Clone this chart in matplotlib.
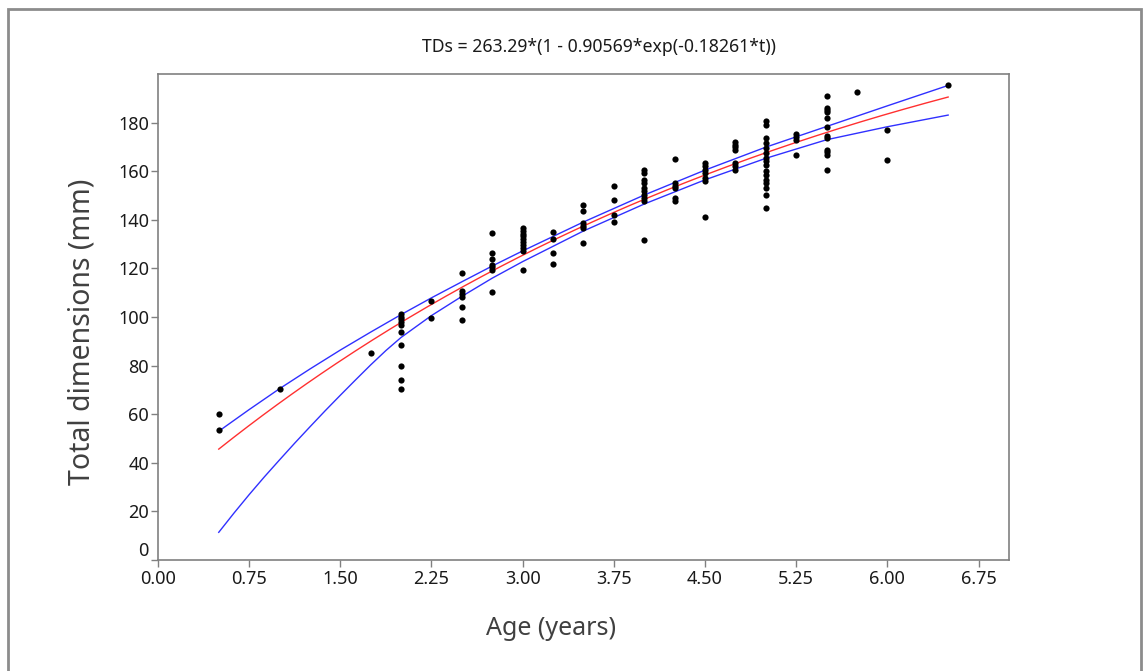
import numpy as np
import matplotlib
matplotlib.use("Agg")
import matplotlib.pyplot as plt
from matplotlib.patches import Rectangle

plt.rcParams['font.family'] = ['Noto Sans', 'DejaVu Sans']

# von Bertalanffy fit parameters
L_inf = 263.29
b = 0.90569
k = 0.18261

# observed sizes grouped by age
ages = [0.5, 1.0, 1.75, 2.0, 2.25, 2.5, 2.75, 3.0, 3.25, 3.5, 3.75, 4.0,
        4.25, 4.5, 4.75, 5.0, 5.25, 5.5, 5.75, 6.0, 6.5]
sizes = [
    [60.0, 53.5],
    [70.5],
    [85.0],
    [101.3, 100.2, 99.2, 98.0, 96.9, 93.9, 88.6, 80.0, 74.1, 70.3],
    [106.4, 99.5],
    [118.3, 110.5, 109.6, 108.4, 104.1, 98.8],
    [134.4, 126.3, 123.8, 121.5, 120.4, 119.4, 110.2],
    [136.5, 135.4, 134.3, 133.2, 132.0, 130.8, 129.6, 128.4, 127.2, 119.4],
    [135.1, 132.2, 126.2, 121.8],
    [146.2, 143.7, 138.7, 137.6, 136.6, 130.3],
    [154.0, 148.0, 142.0, 139.1],
    [160.6, 159.3, 156.5, 155.2, 153.1, 151.7, 150.3, 149.0, 147.6, 131.8],
    [165.2, 155.1, 154.0, 152.9, 149.0, 147.9],
    [163.4, 162.0, 160.6, 159.3, 157.2, 155.8, 141.1],
    [172.0, 170.9, 169.8, 168.6, 163.4, 162.0, 160.6],
    [180.5, 179.2, 173.7, 171.6, 169.6, 167.5, 165.4, 164.1, 162.7,
     160.0, 158.6, 156.5, 155.2, 153.1, 150.3, 144.9],
    [175.5, 174.2, 172.8, 166.5],
    [190.8, 186.0, 185.0, 184.2, 181.9, 178.1, 174.6, 173.7, 168.9,
     167.8, 166.7, 160.3],
    [192.6],
    [177.1, 164.7],
    [195.4],
]

# confidence band limits
upper_t = [0.5, 0.75, 1.0, 1.25, 1.5, 1.75, 2.0, 2.25, 2.5, 2.75, 3.0,
           3.5, 4.0, 4.5, 5.0, 5.5, 6.0, 6.5]
upper_v = [53.0, 61.9, 70.5, 78.6, 86.4, 93.8, 101.0, 107.9, 114.5, 121.0,
           127.2, 139.1, 150.2, 160.45, 169.9, 178.4, 186.9, 195.3]
lower_t = [0.5, 0.625, 0.75, 0.875, 1.0, 1.125, 1.25, 1.375, 1.5, 1.625,
           1.75, 1.875, 2.0, 2.25, 2.5, 2.75, 3.0, 3.5, 4.0, 4.5, 5.0,
           5.5, 6.0, 6.5]
lower_v = [11.4, 19.3, 26.9, 34.2, 41.2, 48.1, 54.8, 61.4, 67.8, 74.1,
           80.3, 86.2, 91.6, 100.6, 108.5, 116.0, 122.8, 135.4, 146.5,
           156.45, 165.3, 172.95, 178.3, 183.1]

fig = plt.figure(figsize=(11.43, 6.71), dpi=100)
ax = fig.add_axes([0.1382, 0.1654, 0.7445, 0.7243])

xs = np.concatenate([[a] * len(v) for a, v in zip(ages, sizes)])
ys = np.concatenate(sizes)
ax.scatter(xs, ys, s=20, color='black', zorder=3, linewidths=0)

t = np.linspace(0.5, 6.5, 200)
fit = L_inf * (1 - b * np.exp(-k * t))
ax.plot(t, fit, color='#ff3030', lw=1.0, zorder=2)
ax.plot(upper_t, upper_v, color='#3030ff', lw=1.0, zorder=2)
ax.plot(lower_t, lower_v, color='#3030ff', lw=1.0, zorder=2)

ax.set_xlim(0, 7.0)
ax.set_ylim(0, 200)
ax.set_xticks(np.arange(0, 7.0, 0.75))
ax.set_xticklabels(['%.2f' % v for v in np.arange(0, 7.0, 0.75)])
ax.set_yticks(np.arange(0, 200, 20))

for sp in ax.spines.values():
    sp.set_color('#808080')
    sp.set_linewidth(1.2)
ax.tick_params(colors='#808080', labelcolor='#1a1a1a', labelsize=13,
               length=5, width=1.0)
ax.tick_params(axis='x', pad=2.5)
ax.tick_params(axis='y', pad=1.5)
# keep the "0" on the y axis clear of the "0.00" below it
ax.get_yticklabels()[0].set_va('bottom')

fig.text(0.524, 0.930, 'TDs = 263.29*(1 - 0.90569*exp(-0.18261*t))',
         ha='center', va='center', fontsize=12.7, color='#1a1a1a')
fig.text(0.482, 0.064, 'Age (years)', ha='center', va='center',
         fontsize=18, color='#404040')
fig.text(0.072, 0.505, 'Total dimensions (mm)', ha='center', va='center',
         rotation=90, fontsize=20.5, color='#404040')

# frame around the whole figure
fig.patches.append(Rectangle((8 / 1143, -0.02), (1141 - 8) / 1143,
                             1.02 - 9 / 671, transform=fig.transFigure,
                             fill=False, edgecolor='#8c8c8c', lw=2))

fig.savefig('out.png', dpi=100)
